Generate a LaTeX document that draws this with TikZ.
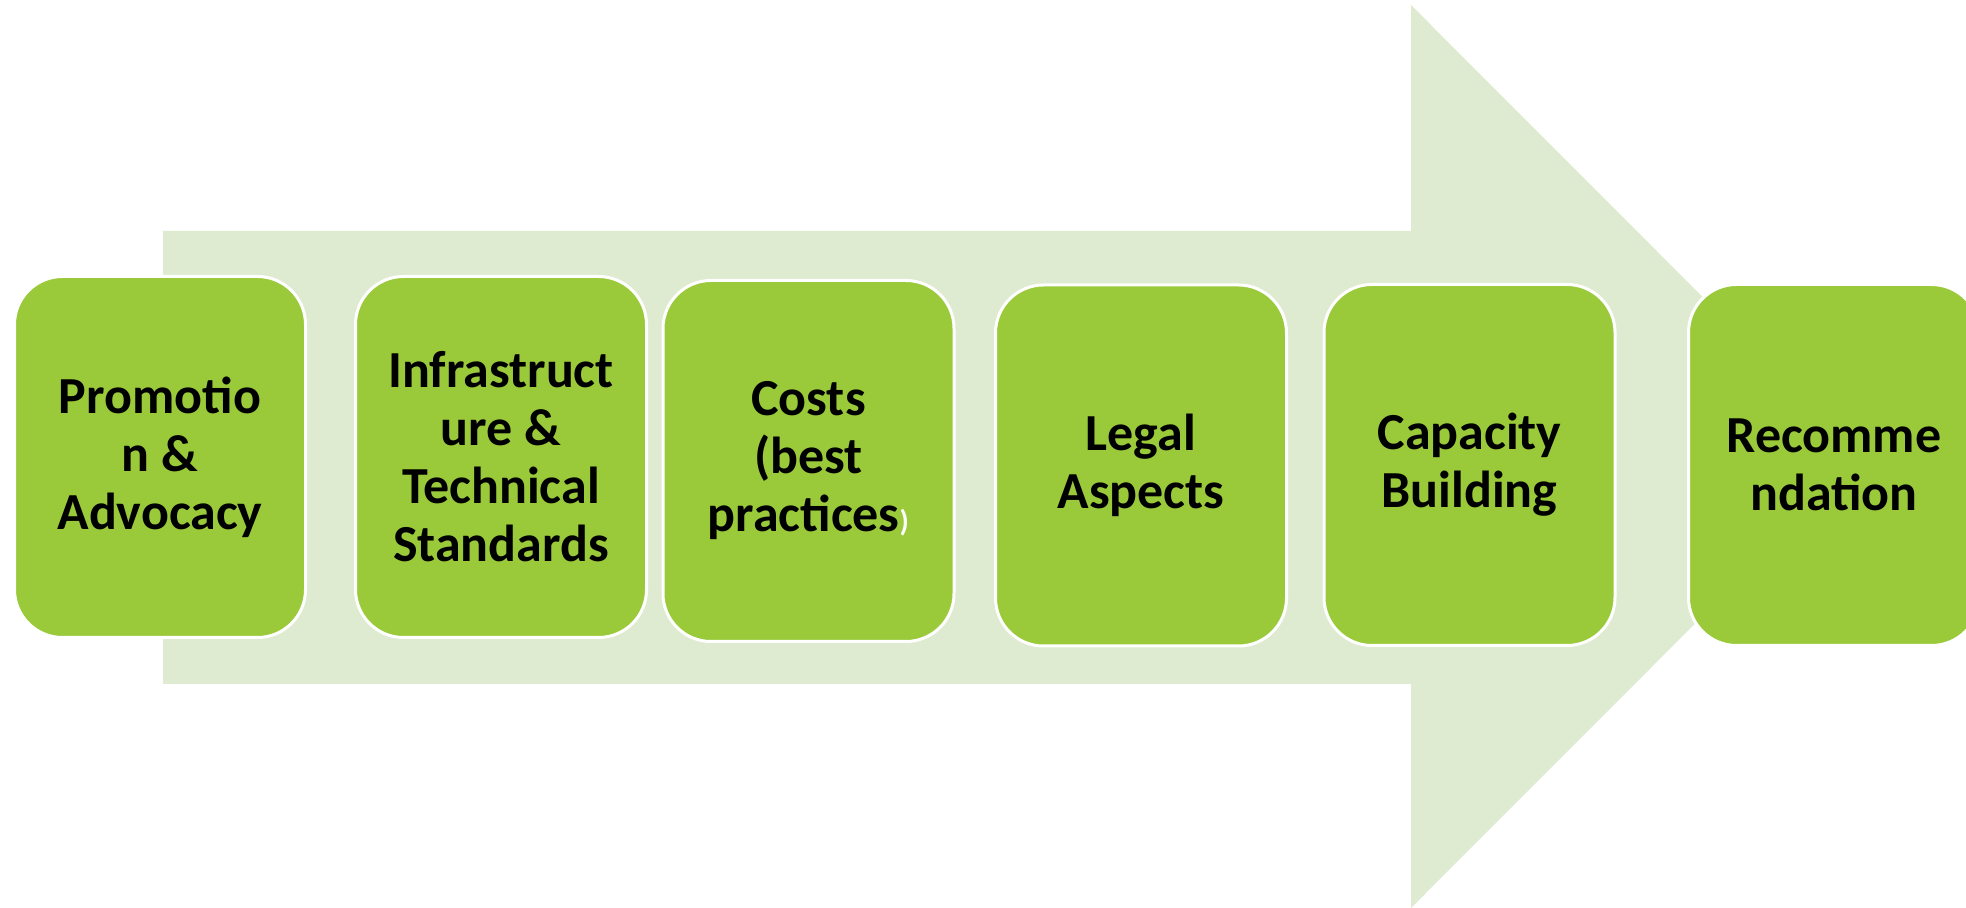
\documentclass[tikz,border=0pt]{standalone}
\usepackage{fontspec}
\setmainfont{Carlito}
\definecolor{arrowgreen}{RGB}{222,235,208}
\definecolor{boxgreen}{RGB}{154,202,58}
\tikzset{
  stepbox/.style={rounded corners=24pt, fill=boxgreen, draw=white, line width=1.5pt,
    minimum width=145.5pt, minimum height=180.5pt, inner sep=0pt, align=center,
    font=\fontsize{26}{29}\selectfont\bfseries, text=black}
}
\begin{document}
\begin{tikzpicture}[x=0.5pt,y=-0.5pt]
\useasboundingbox (0,0) rectangle (1966,908);
\clip (0,0) rectangle (1966,908);
% big background arrow
\fill[arrowgreen] (163,231) -- (1411,231) -- (1411,5) -- (1862,456.5) -- (1411,908) -- (1411,684) -- (163,684) -- cycle;
% steps
\node[stepbox] (b1) at (160,457) {Promotio\\n \&\\Advocacy};
\node[stepbox] (b2) at (501,457) {Infrastruct\\ure \&\\Technical\\Standards};
\node[stepbox] (b3) at (808.5,461) {Costs\\(best\\practices{\color{white}\fontsize{15}{15}\selectfont)}};
\node[stepbox] (b4) at (1141,465.5) {Legal\\Aspects};
\node[stepbox] (b5) at (1469.5,465) {Capacity\\Building};
\node[stepbox] (b6) at (1834,465) {Recomme\\ndation};
\end{tikzpicture}
\end{document}
